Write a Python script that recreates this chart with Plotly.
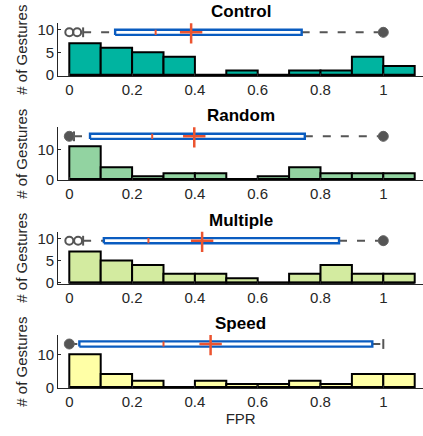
import plotly.graph_objects as go

# ---------------- data ----------------
conditions = ["Control", "Random", "Multiple", "Speed"]
bin_edges = [0.0, 0.1, 0.2, 0.3, 0.4, 0.5, 0.6, 0.7, 0.8, 0.9, 1.0, 1.1]

control_counts = [7, 6, 5, 4, 0, 1, 0, 1, 1, 4, 2]
random_counts = [11, 4, 1, 2, 2, 0, 1, 4, 2, 2, 2]
multiple_counts = [7, 5, 4, 2, 2, 1, 0, 2, 4, 2, 2]
speed_counts = [10, 4, 2, 0, 2, 1, 1, 2, 1, 4, 4]

# box-plot summary statistics (FPR)
q1_vals = [0.146, 0.066, 0.110, 0.032]
median_vals = [0.275, 0.264, 0.252, 0.300]
q3_vals = [0.740, 0.750, 0.859, 0.965]
mean_vals = [0.388, 0.398, 0.423, 0.450]
whisker_low = [0.044, 0.015, 0.044, 0.000]
whisker_high = [1.000, 1.000, 1.000, 1.000]
outlier_vals = [[0.0, 0.025, 1.0], [0.0, 1.0], [0.0, 0.028, 1.0], [0.0]]
outlier_mult = [[1, 1, 3], [3, 4], [1, 1, 3], [3]]

y_dticks = [5, 10, 5, 10]
x_ticks = [0, 0.2, 0.4, 0.6, 0.8, 1]
x_ticklabels = ["0", "0.2", "0.4", "0.6", "0.8", "1"]

# ---------------- style / layout ----------------
W, H = 423, 436
bar_colors = ["#00b4a0", "#92d3a1", "#d3eba0", "#ffffa6"]
box_color = "#0a5cc0"
red = "#ec5430"
gray = "#555555"
axis_color = "#262626"
FONT = "Liberation Sans, Arial, Helvetica, sans-serif"

# pixel geometry of the panels: zero-line pixel, px per unit, top pixel
panel_px = [(75.0, 4.55, 23.3), (179.3, 3.0, 127.3), (282.7, 4.44, 231.7), (387.3, 3.3, 335.0)]
x_left_px, x0_px, x1_px = 58.3, 69.3, 383.3
xscale = (x1_px - x0_px)
x_range = [(x_left_px - x0_px) / xscale, (W - x0_px) / xscale]
box_offset_px = 9.0     # box centre below panel top
box_half_px = 2.6

all_counts = [control_counts, random_counts, multiple_counts, speed_counts]
centers = [(a + b) / 2 for a, b in zip(bin_edges[:-1], bin_edges[1:])]

fig = go.Figure()
layout = dict(
    width=W, height=H, margin=dict(l=0, r=0, t=0, b=0, autoexpand=False),
    paper_bgcolor="white", plot_bgcolor="white", showlegend=False,
    font=dict(family=FONT, size=15, color=axis_color),
)
annotations = []

for i in range(4):
    n = i + 1
    xa = "x" if n == 1 else f"x{n}"
    ya = "y" if n == 1 else f"y{n}"
    y0, sc, top = panel_px[i]
    ymax = (y0 - top) / sc
    ymin = -1.0 / sc
    dom = [1 - (y0 + 1) / H, 1 - top / H]

    # baseline (thick black under the bars)
    fig.add_trace(go.Scatter(x=[bin_edges[0], bin_edges[-1]], y=[0, 0], mode="lines",
                             line=dict(color="black", width=2.5), xaxis=xa, yaxis=ya,
                             hoverinfo="skip"))
    # histogram bars
    fig.add_trace(go.Bar(x=centers, y=all_counts[i], width=0.1,
                         marker=dict(color=bar_colors[i], line=dict(color="black", width=2)),
                         xaxis=xa, yaxis=ya))

    yb = (y0 - (top + box_offset_px)) / sc
    hh = box_half_px / sc
    # whiskers
    fig.add_trace(go.Scatter(x=[whisker_low[i], q1_vals[i]], y=[yb, yb], mode="lines",
                             line=dict(color=gray, width=2, dash="8px,10px"), xaxis=xa, yaxis=ya))
    fig.add_trace(go.Scatter(x=[q3_vals[i], whisker_high[i]], y=[yb, yb], mode="lines",
                             line=dict(color=gray, width=2, dash="8px,10px"), xaxis=xa, yaxis=ya))
    # whisker caps
    fig.add_trace(go.Scatter(x=[whisker_low[i], whisker_high[i]], y=[yb, yb], mode="markers",
                             marker=dict(symbol="line-ns", size=7, color=gray,
                                         line=dict(color=gray, width=2)),
                             xaxis=xa, yaxis=ya, cliponaxis=False))
    # box
    q1, q3 = q1_vals[i], q3_vals[i]
    fig.add_trace(go.Scatter(x=[q1, q3, q3, q1, q1], y=[yb - hh, yb - hh, yb + hh, yb + hh, yb - hh],
                             mode="lines", fill="toself", fillcolor="white",
                             line=dict(color=box_color, width=2.4), xaxis=xa, yaxis=ya))
    # median
    fig.add_trace(go.Scatter(x=[median_vals[i], median_vals[i]], y=[yb - hh, yb + hh], mode="lines",
                             line=dict(color=red, width=2), xaxis=xa, yaxis=ya))
    # mean
    fig.add_trace(go.Scatter(x=[mean_vals[i]], y=[yb], mode="markers",
                             marker=dict(symbol="cross-thin", size=16, color=red,
                                         line=dict(color=red, width=2.5)),
                             xaxis=xa, yaxis=ya))
    # outliers
    ov = outlier_vals[i]
    om = outlier_mult[i]
    single = [v for v, m in zip(ov, om) if m == 1]
    multi = [v for v, m in zip(ov, om) if m > 1]
    if single:
        fig.add_trace(go.Scatter(x=single, y=[yb] * len(single), mode="markers",
                                 marker=dict(symbol="circle-open", size=8, color=gray,
                                             line=dict(color=gray, width=2)),
                                 xaxis=xa, yaxis=ya, cliponaxis=False))
    if multi:
        fig.add_trace(go.Scatter(x=multi, y=[yb] * len(multi), mode="markers",
                                 marker=dict(symbol="circle", size=10, color=gray,
                                             line=dict(color="#666666", width=1)),
                                 xaxis=xa, yaxis=ya, cliponaxis=False))

    layout["xaxis" if n == 1 else f"xaxis{n}"] = dict(
        domain=[x_left_px / W, 1.0], range=x_range, anchor=ya, automargin=False,
        tickvals=x_ticks, ticktext=x_ticklabels, ticks="inside", ticklen=3,
        tickcolor=axis_color, showline=True, linecolor=axis_color, linewidth=1.2,
        showgrid=False, zeroline=False, tickfont=dict(size=15, color=axis_color),
        title=dict(text="FPR", font=dict(size=15, color=axis_color), standoff=4) if n == 4 else None,
    )
    layout["yaxis" if n == 1 else f"yaxis{n}"] = dict(
        domain=dom, range=[ymin, ymax], anchor=xa, dtick=y_dticks[i], tick0=0, automargin=False,
        ticks="inside", ticklen=3, tickcolor=axis_color,
        showline=True, linecolor=axis_color, linewidth=1.2,
        showgrid=False, zeroline=False, tickfont=dict(size=15, color=axis_color),
        title=dict(text="# of Gestures", font=dict(size=15, color=axis_color), standoff=6),
    )
    annotations.append(dict(text=f"<b>{conditions[i]}</b>", xref="paper", yref="paper",
                            x=(x_left_px / W + 1.0) / 2, y=dom[1], xanchor="center", yanchor="bottom",
                            showarrow=False, font=dict(size=17, color="black", family=FONT)))

layout["annotations"] = annotations
fig.update_layout(**layout)
fig.write_html("out.html", config={"displayModeBar": False},
               post_script="document.body.style.margin='0';document.body.style.overflow='hidden';")
